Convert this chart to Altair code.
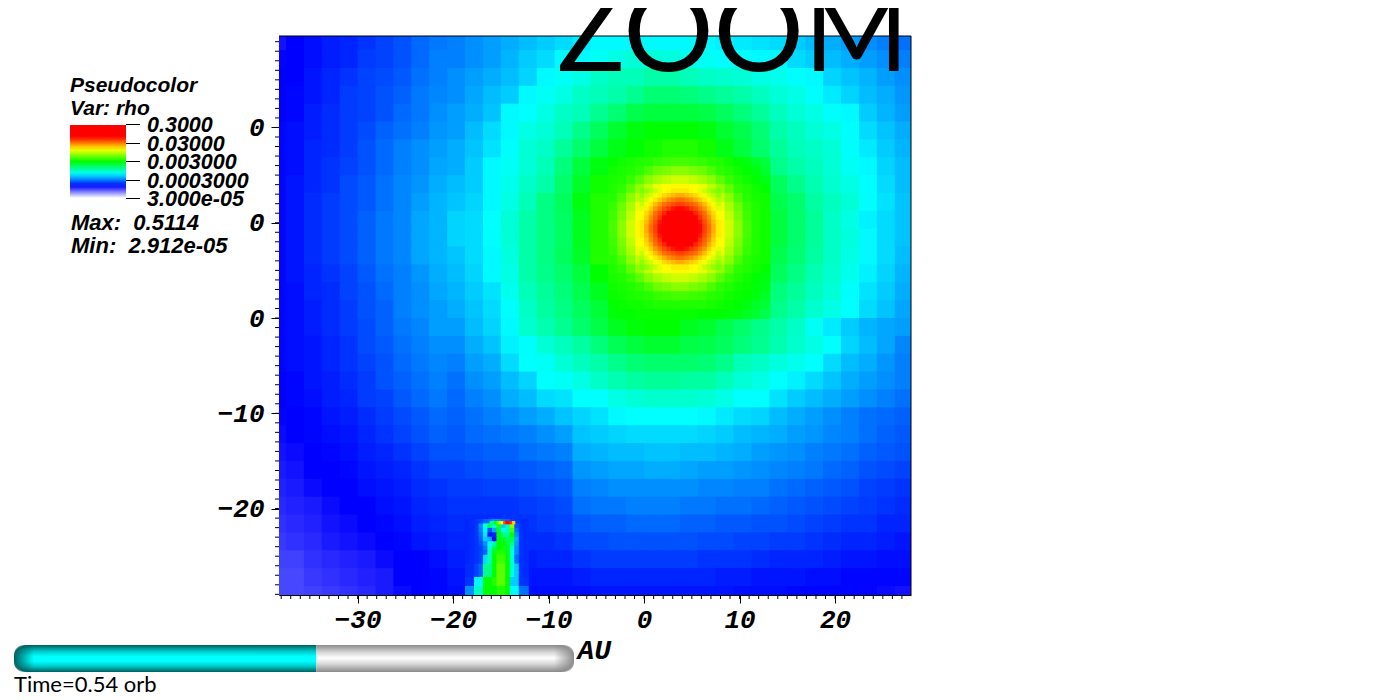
import altair as alt
import pandas as pd

# Colour-table position of each cell (0 = white, 16.7 = blue, 33.3 = cyan, 50 = green, 66.7 = yellow, 83.3+ = red)
coarse_rows = [
[15.5,16.7,17.5,18.5,19,20,21,22,23.5,24.5, 25,26,27,28,29,30,31,32,33, 33,33,33,33,33,33,32.5,32,31.5, 31,30,29,28,27,26,25,24],
[16.5,16.7,17.5,18.5,19,20.5,21,22,23.5,25, 25,26,27,28.5,30,31,33,33,34, 35,36,36,35.5,34.5,34,33.5,33.3,33, 33,31,30,29,28,27,26,25],
[16.7,16.7,18,19,20,21,21.5,22.5,24,25, 26,27,28,29,30.5,33,34,35,37, 38,38,39,39,38,37,36.5,36,35, 34.5,33.5,33,30.5,29.5,28.5,27,26],
[16.7,17,18,19,20.5,21,22,23,24.5,25.5, 26,27.5,29,30,33,34,35,37,38, 39,40.5,42.5,42.5,42,41,40,39,37.5, 36,35,33.5,32,30.5,29,28,26.5],
[16.7,17,18.5,19.5,20.5,21,22,23.5,24.5,26, 27,28,29.5,33,33.3,35,37,38,40.5, 42.5,45,46,46,46,45.5,44,42,40, 37.5,36,35,33.5,33,30,28.5,27],
[17,17.5,18.5,19.5,20.5,21.5,23,24,25,26.5, 27,29,31,33,35,36,38,41,44, 47,49,50,50,50,49,47,45,42.5, 39,37.5,36,35,33.5,31,29.5,28],
[17,17.5,19,19.5,20.5,22,23.5,25,26,27, 28,29.5,31.5,33.5,36,37,40,43,46, 48.5,50,51,52,52,51,48.5,46,43, 40,38,37,36,33.5,32,30,28.5],
[17,17.5,19,20,21,22,23.5,25,26,27.5, 28,30,33,34,36,38,42,46,49, None,None,None,None,None,None,None,None,None, 41,39,37.5,36,34,33,30.5,29],
[17,18,19,20,21.5,22.5,24,25.5,26.5,28, 29,30,33,34.5,37,39,43,47.5,51, None,None,None,None,None,None,None,None,None, 44,41,38.5,36.5,35,33.3,31,29],
[17,18,19.5,20.5,21.5,22.5,24,25.5,27,28.5, 29.5,30.5,33,35,38,41.5,44,49,52, None,None,None,None,None,None,None,None,None, 45,43,39.5,37.5,36,33.5,31.5,29.5],
[17,18,19.5,20.5,21.5,23,24.5,25.5,27.5,28.5, 30.5,31,33.3,36,39,41.5,43.5,48,52, None,None,None,None,None,None,None,None,None, 46,43,40,37,35,32.5,31,29.5],
[17,18,19.5,20.5,21.5,23,24.5,25.5,27.5,28.5, 30.5,31,33.5,36,39,41.5,43.5,48,52, None,None,None,None,None,None,None,None,None, 46,43,40,37,35.5,33,31,29.5],
[17,18,19.5,20.5,21.5,23,24.5,25.5,27.5,28.5, 29.5,31,33,35.5,39,41.5,44,47.5,52, None,None,None,None,None,None,None,None,None, 45,42.5,39.5,37,35,33,31,29],
[17,18,19,20,21,22.5,24,25,26.5,28, 29,30.5,33,35,39,41,43,46,50, None,None,None,None,None,None,None,None,None, 44,41.5,38.5,36.5,34.5,32.5,30.5,28.5],
[17,17.5,19,19.5,21,22,23.5,25,26,27.5, 28.5,30,31.5,34.5,38,40,42,45,48, None,None,None,None,None,None,None,None,None, 42,40,37.5,36,33.5,31.5,30,28],
[17,17.5,18.5,19.5,20.5,22,23,25,26,27, 28,29.5,31,33.5,37,39.5,41.5,44,46.5, None,None,None,None,None,None,None,None,None, 41,39,36.5,35,33.3,31,29.5,27.5],
[17,17.5,18.5,19.5,20.5,21.5,23,24.5,25.5,27, 27,29,30.5,33,36.5,38.5,40.5,43,45.5, 48,49.5,50,50,48,47,45,43,41, 39,37,34,32,30,28.5,27.5,27],
[17,17.5,18,19,20,21.5,22.5,24,25,26, 26,28,29.5,32.5,33.5,36,37.5,39.5,42, 44.5,46,47,47,45.5,45,44,42,40.5, 38.5,36.5,35,33.3,30.5,29,27.5,25.5],
[17,17.5,18,19,20,21,22,23.5,24.5,25.5, 25,27,28,31,33.3,34,36,37.5,39, 41,42.5,43,43,43,42.5,41,38,37, 35.5,34.5,33.3,31,29,28,26.5,25],
[16.7,17,18,18.5,19.5,20.5,22,23,24,25, 24,26,27,29,30.5,33.3,34,35,37, 38.5,39.5,40,40,39.5,39.5,38,36,35, 33.3,32.5,31,29.5,28,27,26,25],
[16.7,17,17.5,18.5,19,20.5,21,22.5,23.5,24.5, 23.5,25,26,28,29,31,31.5,33.3,33.3, 35,36,36.5,36.5,36.5,36,35,33.3,33.3, 31.5,30,29,28,27,26,25,24],
[16.5,16.7,17,18,18.5,19.5,20.5,21.5,22.5,23.5, 23,24,25,26,27,28,29.5,30.5,31.5, 33,33.3,33.3,33.3,33.3,33,32,31,30.5, 29,28,27,26,25,24,23.5,23],
[16,16.7,17,17.5,18,19,20,21,22,23, 22.5,23.5,24,24.5,25,26,27,29.5,30, 30.5,31,31,31,31,30.5,30,29,28.5, 28,27,26.5,25.5,25,24,23,22.5],
[15.5,16,16.7,17,17.5,18.5,19,20,21,22, 22,22.5,23,23,24,24.5,25,28,28.5, 29,29,29.5,29.5,29,29,28.5,28,27, 26.5,26,25,24.5,24,23,22.5,22],
[15,15.5,16.7,16.7,17,18,18.5,19,20,21, 21,21.5,22,22,22.5,23,23.5,26.5,27, 27.5,27.5,28,28,27.5,27,27,26.5,26, 25.5,25,24.5,23.5,23,22,21.5,21],
[14.5,15,16,16.7,16.7,17.5,18,18.5,19.5,20, 20.5,20.5,21,21,21.5,22,22.5,25,25.5, 26,26,26,26,26,25.5,25.5,25,25, 24,23.5,23,22.5,22,21,20.5,20],
[14,14.5,15,16,16.7,16.7,17.5,18,19,19.5, 20,20,20,20,20.5,21,21.5,24,24.5, 24.5,25,25,25,24.5,24.5,24,24,23.5, 23,22.5,22,21.5,21,20.5,20,19.5],
[13.5,14,14.5,15.5,16,16.7,17,17.5,18.5,19, 19.5,19.5,19.5,20,20,20.5,21,22.5,23, 23,23.5,23.5,23.5,23,23,22.5,22.5,22, 22,21.5,21,20.5,20,20,19,19],
[13,13.5,14,15,15.5,16,16.7,17,18,18.5, 19,19,19,19.5,19.5,19.5,20,21.5,21.5, 22,22,22,22,22,21.5,21.5,21,21, 20.5,20.5,20,19.5,19,19,18.5,18],
[12.5,12.5,13.5,14,14.5,15,16,16.7,16.7,17.5, 18.5,18.5,18.5,18.5,18.5,19,19,20,20.5, 20.5,20.5,20.5,20.5,20.5,20,20,20,19.5, 19,19,19,18.5,18,18,17.5,17.5],
[12,12,13,13.5,14,14.5,15,16.7,16.7,17, 18,18,18,18,18,18,18,18.5,19, 19,19,19,19,19,19,18.5,18.5,18, 18,18,17.5,17.5,17,17,17,17],
[12,12,12.5,13,13.5,14,15,16,16.7,17, 17.5,17.5,17.5,17.5,17.5,17.5,17.5,17.5,18, 18,18,18,18,18,18,18,17.5,17.5, 17.5,17,17,17,17,16.5,16,15.5],
]

# Refined block around the dense core
mid_rows = [
[50,51,51.5,52,52.5,53.5,54,54.5,54.5,54,53.5,52.5,52,51,50,49,47.5,46],
[51,51.5,52,53,55,57,58,59,59,58,57,55,53,52,51,50,49,47],
[51.5,52,53.5,56,59,61,62.5,63.5,63.5,62.5,61,59,56,53.5,52,51,50,48.5],
[52,53,56,59.5,62.5,65.5,66.5,67,67,66.5,65.5,62.5,59.5,56,53,52,51,50],
[52.5,55,59,62.5,90,90,90,90,90,90,90,90,62.5,59,55,52.5,51.5,51],
[53.5,57,61,65.5,90,90,90,90,90,90,90,90,65.5,61,57,53.5,52,51],
[54,58,62.5,66.5,90,90,90,90,90,90,90,90,66.5,62.5,58,54,52,51],
[54.5,59,63.5,67,90,90,90,90,90,90,90,90,67,63.5,59,54.5,52,51],
[54.5,59,63.5,67,90,90,90,90,90,90,90,90,67,63.5,59,54.5,52,51],
[54,58,62.5,66.5,90,90,90,90,90,90,90,90,66.5,62.5,58,54,52,51],
[53.5,57,61,65.5,90,90,90,90,90,90,90,90,65.5,61,57,53.5,52,51],
[52.5,55,59,62.5,90,90,90,90,90,90,90,90,62.5,59,55,52.5,51.5,51],
[52,53,56,59.5,62.5,65.5,66.5,67,67,66.5,65.5,62.5,59.5,56,53,52,51,50],
[51.5,52,53.5,56,59,61,62.5,63.5,63.5,62.5,61,59,56,53.5,52,51,50,49],
[51,51.5,52,53,55,57,58,59,59,58,57,55,53,52,51,50.5,49.5,48.5],
[50.5,51,51.5,52,52.5,53.5,54,54.5,54.5,54,53.5,52.5,52,51,50.5,50,49,47.5],
[50,50.5,51,51,51.5,52,52,52,52,52,52,51.5,51,50.5,50,49,47.5,46.5],
[49.5,50,50,50.5,50.5,50.5,50.5,50.5,50.5,50.5,50,50,50,49.5,49,48,47,45],
]

core_rows = [
[58,59.5,61.5,63,65,66.7,67,68,68,68,68,67,66.7,65,63,61.5,59.5,58],
[59.5,62,64,66,67.5,69,70,71,72,72,71,70,69,67.5,66,64,62,59.5],
[61.5,64,66.7,68,70,72,74,75,76,76,75,74,72,70,68,66.7,64,61.5],
[63,66,68,71,73.5,76,77,78,79,79,78,77,76,73.5,71,68,66,63],
[65,67.5,70,73.5,76,78.5,80,82,83,83,82,80,78.5,76,73.5,70,67.5,65],
[66.7,69,72,76,78.5,81,85,88,90,90,88,85,81,78.5,76,72,69,66.7],
[67,70,74,77,80,85,90,94,96,96,94,90,85,80,77,74,70,67],
[68,71,75,78,82,88,94,100,100,100,100,94,88,82,78,75,71,68],
[68,72,76,79,83,90,96,100,100,100,100,96,90,83,79,76,72,68],
[68,72,76,79,83,90,96,100,100,100,100,96,90,83,79,76,72,68],
[68,71,75,78,82,88,94,100,100,100,100,94,88,82,78,75,71,68],
[67,70,74,77,80,85,90,94,96,96,94,90,85,80,77,74,70,67],
[66.7,69,72,76,78.5,81,85,88,90,90,88,85,81,78.5,76,72,69,66.7],
[65,67.5,70,73.5,76,78.5,80,82,83,83,82,80,78.5,76,73.5,70,67.5,65],
[63,66,68,71,73.5,76,77,78,79,79,78,77,76,73.5,71,68,66,63],
[61.5,64,66.7,68,70,72,74,75,76,76,75,74,72,70,68,66.7,64,61.5],
[59.5,62,64,66,67.5,69,70,71,72,72,71,70,69,67.5,66,64,62,59.5],
[58,59.5,61.5,63,65,66.7,67,68,68,68,68,67,66.7,65,63,61.5,59.5,58],
]

# Small jet near the lower edge
jet_rows = [
[19,19.5,20,21,23,24,26,26,24,23,21,20,19.5,19.5],
[19,19.5,20,26,34,45,36,52,30,38,60,22,20,19.5],
[19,19.5,20,25,33,22,28,48,33,38,55,24,20,19.5],
[19,19.5,20,24,32,18,19,50,42,40,50,26,20,19.5],
[19,19.5,20,23,30,28,17,50,47,44,46,28,20,19.5],
[19,19.5,20,22,26,33,38,50,50,46,42,27,20,19.5],
[19,19.5,20,21,24,36,45,50,51,48,36,26,20,19.5],
[19,19.5,20,21,23,38,48,52,52,49,36,26,20,19.5],
[19,19.5,20,21,31,38,50,54,54,50,36,24,20,19.5],
[19,19.5,20,21,31,38,50,54,54,50,36,24,20,19.5],
[19.5,19.5,21,23,41,41,50,56,56,50,36,30,20,19.5],
[19.5,19.5,21,23,41,41,50,56,56,50,36,30,20,19.5],
[19.5,19.5,21,23,41,41,50,56,56,50,36,30,20,19.5],
[20,20,33,33,50,50,52,56,56,50,30,30,20,20],
[20,20,33,33,50,50,52,56,56,50,30,30,20,20],
[26,26,37,37,50,50,50,52,52,50,33,33,24,24],
[26,26,37,37,50,50,50,52,52,50,33,33,24,24],
]
jet_tip = [40,42,50,56,62,66,78,84,84,80,70]

legend_levels = [0, 25, 50, 75, 100]
legend_labels = ["0.3000", "0.03000", "0.003000", "0.0003000", "3.000e-05"]
color_levels = [0, 16.67, 33.33, 50, 66.67, 83.33, 100]
color_range = ["#ffffff", "#0000ff", "#00ffff", "#00ff00", "#ffff00", "#ff0000", "#ff0000"]
x_major = [-30, -20, -10, 0, 10, 20]
y_major = [-20, -10, 0, 10, 20]
x_minor = list(range(-38, 28))
y_minor = list(range(-29, 30))
info_lines = ["Max:\u00a0\u00a00.5114", "Min:\u00a0\u00a02.912e-05"]
legend_tick_px = [88, 107, 125, 144, 162]
time_fraction = 0.54

X_DOMAIN = [-38.23, 27.95]
Y_DOMAIN = [-29.07, 29.6]
PX_LEFT, PX_TOP = 279, 36
W, H = 632, 559

cells = []


def add_block(rows, x_start, y_start, dx, dy):
    for r, row in enumerate(rows):
        for c, t in enumerate(row):
            if t is None:
                continue
            x0 = x_start + c * dx
            y0 = y_start - r * dy
            cells.append({"x0": x0, "x1": x0 + dx + 0.11, "y0": y0, "y1": y0 - dy - 0.11, "level": t})


add_block(coarse_rows, -39.375, 30.0, 1.875, 1.875)
add_block(mid_rows, -3.75, 16.875, 0.9375, 0.9375)
add_block(core_rows, 3.75 - 0.46875 * 9, 9.375 + 0.46875 * 9, 0.46875, 0.46875)
add_block(jet_rows, -18.75, -21.09, 0.46875, 0.46875)
add_block([jet_tip], -16.17, -21.3, 0.234375, 0.234375)
cells_df = pd.DataFrame(cells)

one = pd.DataFrame({"a": [0]})

heat = alt.Chart(cells_df).mark_rect(clip=True).encode(
    x=alt.X("x0:Q", scale=alt.Scale(domain=X_DOMAIN, nice=False, zero=False),
            axis=alt.Axis(values=x_major, format="d", tickSize=8, tickColor="black", domainColor="black",
                          labelColor="black", labelFont="Liberation Mono", labelFontSize=26,
                          labelFontWeight="bold", labelFontStyle="italic", labelPadding=3, grid=False,
                          title="AU", titleFont="Liberation Mono", titleFontSize=28, titleFontWeight="bold",
                          titleFontStyle="italic", titleColor="black", titleX=298, titleY=63,
                          titleAlign="left", titleBaseline="alphabetic", labelFlush=False)),
    x2="x1:Q",
    y=alt.Y("y0:Q", scale=alt.Scale(domain=Y_DOMAIN, nice=False, zero=False),
            axis=alt.Axis(values=y_major, tickSize=8, tickColor="black", domainColor="black", title=None,
                          labelColor="black", labelFont="Liberation Mono", labelFontSize=26,
                          labelFontWeight="bold", labelFontStyle="italic", labelPadding=7, grid=False,
                          labelExpr="datum.value > 0 ? '0' : format(datum.value, 'd')", labelFlush=False)),
    y2="y1:Q",
    color=alt.Color("level:Q",
                    scale=alt.Scale(type="linear", domain=color_levels, range=color_range,
                                    interpolate="rgb", clamp=True),
                    legend=alt.Legend(orient="none", legendX=-209, legendY=39, direction="vertical",
                                      title=["Pseudocolor", "Var: rho"], titleFont="Liberation Sans",
                                      titleFontSize=21, titleFontStyle="italic", titleFontWeight="bold",
                                      titleColor="black", titleLineHeight=23, titlePadding=6,
                                      gradientLength=73, gradientThickness=56, gradientStrokeWidth=0,
                                      values=legend_levels, labelExpr="''")),
)

layers = [heat]

# frame on the top and right of the plot
layers.append(alt.Chart(one).mark_rule(color="black").encode(x=alt.value(W), y=alt.value(0), y2=alt.value(H)))
layers.append(alt.Chart(one).mark_rule(color="black").encode(x=alt.value(0), x2=alt.value(W), y=alt.value(0)))

# minor ticks
layers.append(alt.Chart(pd.DataFrame({"v": x_minor})).mark_rule(color="black").encode(
    x="v:Q", y=alt.value(H), y2=alt.value(H + 4)))
layers.append(alt.Chart(pd.DataFrame({"v": y_minor})).mark_rule(color="black").encode(
    y="v:Q", x=alt.value(-4), x2=alt.value(0)))

# legend ticks and their labels
for py, label in zip(legend_tick_px, legend_labels):
    layers.append(alt.Chart(one).mark_rule(color="black").encode(
        x=alt.value(126 - PX_LEFT), x2=alt.value(140 - PX_LEFT), y=alt.value(py + 0.5)))
    layers.append(alt.Chart(one).mark_text(text=label, font="Liberation Sans", fontSize=21.5, fontStyle="italic",
                                           fontWeight="bold", align="left", baseline="middle", color="black").encode(
        x=alt.value(147 - PX_LEFT), y=alt.value(py + 2)))

# max/min lines
for line, py in zip(info_lines, [230, 253]):
    layers.append(alt.Chart(one).mark_text(text=line, font="Liberation Sans", fontSize=22, fontStyle="italic",
                                           fontWeight="bold", align="left", baseline="alphabetic", color="black").encode(
        x=alt.value(71 - PX_LEFT), y=alt.value(py - PX_TOP)))

# ZOOM title
layers.append(alt.Chart(one).mark_text(text="ZOOM", font="Lato", fontSize=113,
                                       align="left", baseline="alphabetic", color="black").encode(
    x=alt.value(557 - PX_LEFT), y=alt.value(71 - PX_TOP)))

# time bar
BAR_L, BAR_R, BAR_T, BAR_B = 14, 574, 645, 672
split = BAR_L + (BAR_R - BAR_L) * time_fraction
v_cyan = alt.Gradient(gradient="linear", x1=0, x2=0, y1=0, y2=1, stops=[
    alt.GradientStop(offset=0, color="#005f5f"), alt.GradientStop(offset=0.22, color="#00c4c4"),
    alt.GradientStop(offset=0.42, color="#00ffff"), alt.GradientStop(offset=0.6, color="#00ffff"),
    alt.GradientStop(offset=0.8, color="#00c4c4"), alt.GradientStop(offset=1, color="#005f5f")])
v_gray = alt.Gradient(gradient="linear", x1=0, x2=0, y1=0, y2=1, stops=[
    alt.GradientStop(offset=0, color="#8a8a8a"), alt.GradientStop(offset=0.25, color="#d2d2d2"),
    alt.GradientStop(offset=0.48, color="#ffffff"), alt.GradientStop(offset=0.7, color="#d8d8d8"),
    alt.GradientStop(offset=1, color="#8a8a8a")])
h_left = alt.Gradient(gradient="linear", x1=0, x2=1, y1=0, y2=0, stops=[
    alt.GradientStop(offset=0, color="rgba(0,80,80,0.9)"), alt.GradientStop(offset=1, color="rgba(0,80,80,0)")])
h_right = alt.Gradient(gradient="linear", x1=0, x2=1, y1=0, y2=0, stops=[
    alt.GradientStop(offset=0, color="rgba(130,130,130,0)"), alt.GradientStop(offset=1, color="rgba(130,130,130,0.9)")])

layers.append(alt.Chart(one).mark_rect(fill=v_cyan, cornerRadiusTopLeft=13, cornerRadiusBottomLeft=13).encode(
    x=alt.value(BAR_L - PX_LEFT), x2=alt.value(split - PX_LEFT), y=alt.value(BAR_T - PX_TOP), y2=alt.value(BAR_B - PX_TOP)))
layers.append(alt.Chart(one).mark_rect(fill=v_gray, cornerRadiusTopRight=13, cornerRadiusBottomRight=13).encode(
    x=alt.value(split - PX_LEFT), x2=alt.value(BAR_R - PX_LEFT), y=alt.value(BAR_T - PX_TOP), y2=alt.value(BAR_B - PX_TOP)))
layers.append(alt.Chart(one).mark_rect(fill=h_left, cornerRadiusTopLeft=13, cornerRadiusBottomLeft=13).encode(
    x=alt.value(BAR_L - PX_LEFT), x2=alt.value(BAR_L + 20 - PX_LEFT), y=alt.value(BAR_T - PX_TOP), y2=alt.value(BAR_B - PX_TOP)))
layers.append(alt.Chart(one).mark_rect(fill=h_right, cornerRadiusTopRight=13, cornerRadiusBottomRight=13).encode(
    x=alt.value(BAR_R - 20 - PX_LEFT), x2=alt.value(BAR_R - PX_LEFT), y=alt.value(BAR_T - PX_TOP), y2=alt.value(BAR_B - PX_TOP)))

layers.append(alt.Chart(one).mark_text(text=f"Time={time_fraction} orb", font="Lato", fontSize=22,
                                       align="left", baseline="alphabetic", color="black").encode(
    x=alt.value(14 - PX_LEFT), y=alt.value(692 - PX_TOP)))

chart = alt.layer(*layers).properties(
    width=W, height=H,
    autosize=alt.AutoSizeParams(type="none"),
    padding={"left": PX_LEFT - 8, "top": PX_TOP - 8, "right": 380, "bottom": 100},
).configure_view(stroke=None).configure_axis(tickWidth=1, domainWidth=1)

chart.save("out.html", embed_options={"renderer": "svg", "actions": False})
